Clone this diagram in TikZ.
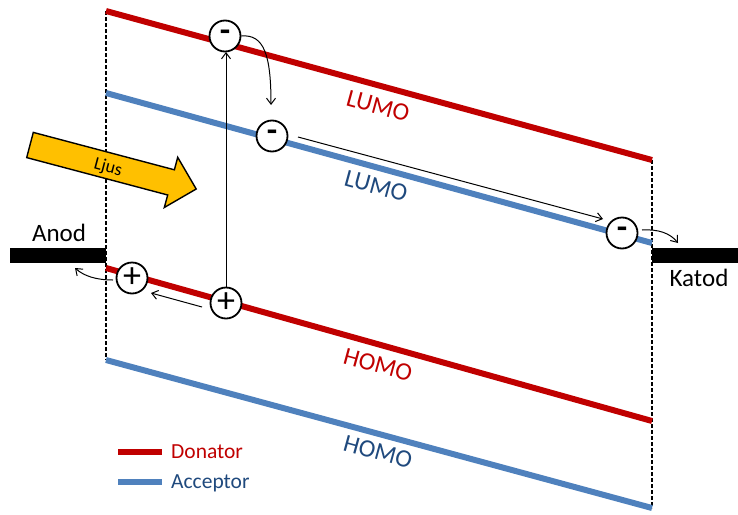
\documentclass[tikz,border=0pt]{standalone}
\usepackage{fontspec}
\setmainfont{Carlito}
\usetikzlibrary{arrows.meta}
\definecolor{dred}{HTML}{C00000}
\definecolor{dblue}{HTML}{4F81BD}
\definecolor{tblue}{HTML}{1F497D}
\definecolor{ljusyellow}{HTML}{FFC000}
\tikzset{
  level/.style={line width=6pt},
  guide/.style={line width=1.1pt, dash pattern=on 3.5pt off 2.5pt},
  charge/.style={circle, draw, line width=1.8pt, fill=white, minimum size=31pt, inner sep=0pt},
  negcharge/.style={charge, font=\fontsize{34}{34}\bfseries\selectfont},
  poscharge/.style={charge, font=\fontsize{36}{36}\selectfont},
  move/.style={line width=1pt, -{Straight Barb[length=6pt,width=9pt]}},
  lbl/.style={font=\fontsize{25}{25}\selectfont, inner sep=0pt},
  leg/.style={font=\fontsize{21.5}{21.5}\selectfont, inner sep=0pt, anchor=west},
  electrode/.style={fill=black}
}
\begin{document}
\begin{tikzpicture}[x=1pt,y=-1pt]
\useasboundingbox (0,0) rectangle (738,514);
% guides
\draw[guide] (106,11) -- (106,360);
\draw[guide] (652,160) -- (652,508);
% levels
\draw[level, dred] (106,11) -- (652,160);
\draw[level, dblue] (106,93) -- (652,243);
\draw[level, dred] (106,268) -- (652,421);
\draw[level, dblue] (106,360) -- (652,508);
% electrodes
\fill[electrode] (10,248) rectangle (106,263);
\fill[electrode] (652,248) rectangle (738,263);
\node[lbl] (anod) at (59,233) {Anod};
\node[lbl] (katod) at (699,278) {Katod};
% level labels
\node[lbl, dred, rotate=-15.3] (lumoD) at (378,106) {LUMO};
\node[lbl, tblue, rotate=-15.3] (lumoA) at (376,186) {LUMO};
\node[lbl, dred, rotate=-15.3] (homoD) at (378,365) {HOMO};
\node[lbl, tblue, rotate=-15.3] (homoA) at (378,452) {HOMO};
% Ljus arrow
\draw[line width=1.4pt, fill=ljusyellow, line join=miter]
  (33.3,132.4) -- (174.4,169.8) -- (177.7,157.3) -- (196.2,189.0)
  -- (164.3,207.5) -- (167.7,195.0) -- (26.7,157.6) -- cycle;
\node[font=\fontsize{18}{18}\selectfont, rotate=-15, inner sep=0pt] (ljus) at (108,168) {Ljus};
% charges
\node[negcharge] (m1) at (225,36) {-};
\node[negcharge] (m2) at (272,136) {-};
\node[negcharge] (m3) at (622,233) {-};
\node[poscharge] (p1) at (132,278) {+};
\node[poscharge] (p2) at (226,303) {+};
% connectors
\coordinate (m1s) at (226,52);
\draw[move] (p2.north) -- (m1s);
\coordinate (m2t) at (271,105);
\draw[move] (m1.east) .. controls (264,34) and (271,55) .. (m2t);
\coordinate (m2o) at (298,137);
\coordinate (m3i) at (603,219);
\draw[move] (m2o) -- (m3i);
\coordinate (m3o) at (642,230);
\coordinate (katin) at (678,243);
\draw[move] (m3o) .. controls (658,229) and (670,233) .. (katin);
\coordinate (p2o) at (202,307);
\coordinate (p1i) at (151,293);
\draw[move] (p2o) -- (p1i);
\coordinate (p1o) at (113,280);
\coordinate (anin) at (75,268);
\draw[move] (p1o) .. controls (96,280) and (84,276) .. (anin);
% legend
\coordinate (ld1) at (118,452);
\coordinate (ld2) at (162,452);
\coordinate (la1) at (118,482);
\coordinate (la2) at (162,482);
\draw[level, dred] (ld1) -- (ld2);
\draw[level, dblue] (la1) -- (la2);
\node[leg, dred] (don) at (171,452) {Donator};
\node[leg, tblue] (acc) at (171,483) {Acceptor};
\end{tikzpicture}
\end{document}
